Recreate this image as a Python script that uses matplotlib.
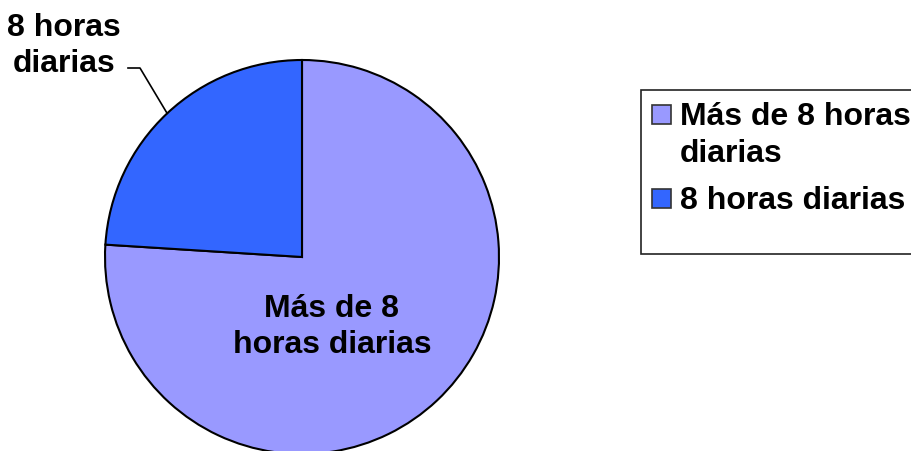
import numpy as np
import matplotlib.pyplot as plt
from matplotlib.patches import Rectangle

plt.rcParams['font.family'] = ['Liberation Sans', 'DejaVu Sans']

labels = ['Más de 8 horas diarias', '8 horas diarias']
legend_labels = ['Más de 8 horas\ndiarias', '8 horas diarias']
values = [76, 24]
colors = ['#9999FF', '#3366FF']

W, H = 912, 451
fig = plt.figure(figsize=(W / 100, H / 100), dpi=100)
ax = fig.add_axes([0, 0, 1, 1])

cx, cy, r = 302, H - 257, 197
wedges, _ = ax.pie(values, colors=colors, startangle=90, counterclock=False,
                   center=(cx, cy), radius=r, frame=True,
                   wedgeprops=dict(edgecolor='black', linewidth=1.5))
ax.set_xlim(0, W)
ax.set_ylim(0, H)
ax.axis('off')

font = dict(fontsize=23, fontweight='bold', color='black')

# label inside the big slice
ax.text(332, H - 327, 'Más de 8\nhoras diarias', ha='center', va='center',
        linespacing=1.3, **font)

# outside label with leader line to the small slice
w = wedges[1]
mid = np.deg2rad((w.theta1 + w.theta2) / 2)
ex, ey = cx + r * np.cos(mid), cy + r * np.sin(mid)
ax.plot([128, 140, ex], [H - 68, H - 68, ey], color='black', lw=1.2)
ax.text(64, H - 46, '8 horas\ndiarias', ha='center', va='center',
        linespacing=1.23, **font)

# legend drawn by hand (frame runs off the right edge like the original)
ax.add_patch(Rectangle((641, H - 254), 300, 164, facecolor='white',
                       edgecolor='#222222', lw=1.2, clip_on=False, zorder=2))
entry_top = [105, 189]
for wd, lab, top in zip(wedges, legend_labels, entry_top):
    ax.add_patch(Rectangle((652, H - top - 19), 19, 19,
                           facecolor=wd.get_facecolor(), edgecolor='#333333',
                           lw=1.2, zorder=3))
    ax.text(680, H - top + 3, lab, ha='left', va='top', linespacing=1.3,
            zorder=3, **font)

fig.savefig('out.png', dpi=100)
